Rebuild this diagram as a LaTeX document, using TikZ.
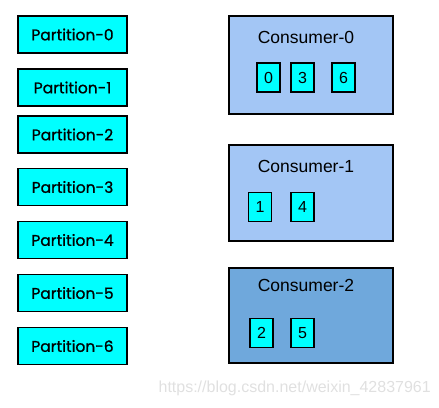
\documentclass[tikz,border=0pt]{standalone}
\usepackage{tikz}
\usepackage{xcolor}
\usepackage{fontspec}
\setmainfont{Liberation Sans}
\newfontfamily\partfont[FakeBold=1]{Poppins}

\definecolor{partcyan}{HTML}{00FFFF}
\definecolor{conslight}{HTML}{A3C6F5}
\definecolor{consdark}{HTML}{6FA8DC}

\begin{document}
\begin{tikzpicture}[
	x=1pt, y=-1pt,
	every node/.style={inner sep=0pt},
	part/.style={draw, line width=1.6pt, fill=partcyan, minimum width=109pt, minimum height=37pt, font=\partfont\fontsize{15.5}{18}\selectfont},
	cons/.style={draw, line width=1.6pt, fill=conslight, minimum width=164pt},
	label/.style={font=\fontsize{17.5}{20}\selectfont},
	slot/.style={draw, line width=1.6pt, fill=partcyan, minimum width=23pt, minimum height=29pt, font=\fontsize{16}{18}\selectfont}
]
\useasboundingbox (0,0) rectangle (439,407);
% partitions
\node[part] (p0) at (72.5,34.5) {Partition-0};
\node[part] (p1) at (72.5,87.5) {Partition-1};
\node[part] (p2) at (72.5,134.5) {Partition-2};
\node[part] (p3) at (72.5,187) {Partition-3};
\node[part] (p4) at (72.5,240) {Partition-4};
\node[part] (p5) at (72.5,293) {Partition-5};
\node[part] (p6) at (72.5,346) {Partition-6};
% consumers
\node[cons, minimum height=98pt] (c0) at (311,65) {};
\node[cons, minimum height=96pt] (c1) at (311,193) {};
\node[cons, minimum height=95pt, fill=consdark] (c2) at (311,315.5) {};
\node[label] (c0l) at (306,37) {Consumer-0};
\node[label] (c1l) at (306,166) {Consumer-1};
\node[label] (c2l) at (306,285) {Consumer-2};
% assigned partitions
\node[slot] (s0) at (268.5,77.5) {0};
\node[slot] (s3) at (302.5,77.5) {3};
\node[slot] (s6) at (343.5,77.5) {6};
\node[slot] (s1) at (260,207) {1};
\node[slot] (s4) at (302.5,207) {4};
\node[slot] (s2) at (261.5,333) {2};
\node[slot] (s5) at (302.5,333) {5};
% watermark
\node[text=black!12, font=\fontsize{16}{18}\selectfont, anchor=east] (wm) at (431,388) {https://blog.csdn.net/weixin\_42837961};
\end{tikzpicture}
\end{document}
